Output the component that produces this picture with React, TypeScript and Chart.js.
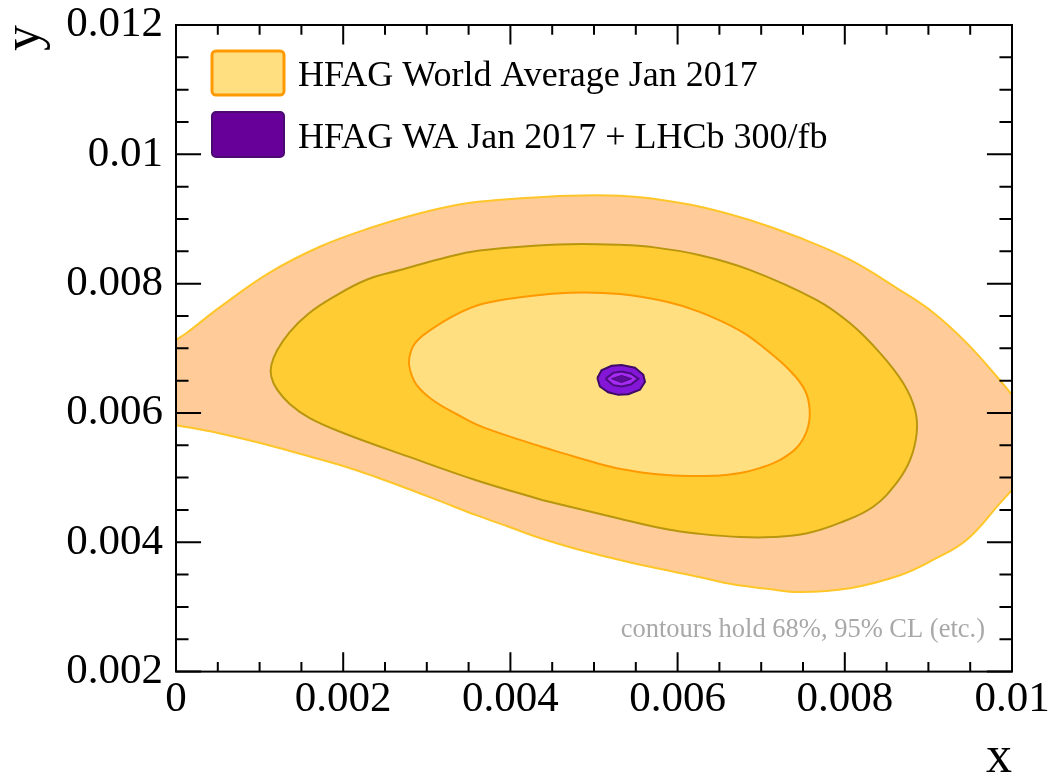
import { useEffect, useRef } from "react";
import { Chart, registerables } from "chart.js";

Chart.register(...registerables);

// ---- axis ranges & ticks ----
const X_MIN = 0;
const X_MAX = 0.01;
const Y_MIN = 0.002;
const Y_MAX = 0.012;
const xTickValues = [0, 0.002, 0.004, 0.006, 0.008, 0.01];
const xTickLabels = ["0", "0.002", "0.004", "0.006", "0.008", "0.01"];
const yTickValues = [0.002, 0.004, 0.006, 0.008, 0.01, 0.012];
const yTickLabels = ["0.002", "0.004", "0.006", "0.008", "0.01", "0.012"];
const xTitle = "x";
const yTitle = "y";

// ---- legend / annotation text ----
const legendLabels = ["HFAG World Average Jan 2017", "HFAG WA Jan 2017 + LHCb 300/fb"];
const noteText = "contours hold 68%, 95% CL (etc.)";

// ---- contours: [x, y] (points on the frame edge are repeated to keep corners sharp) ----
const wa3sigma: [number, number][] = [
  [0, 0.00713], [0.00013, 0.00724], [0.00053, 0.00764], [0.00112, 0.00817], [0.00172, 0.00857],
  [0.00232, 0.00886], [0.00292, 0.00909], [0.00352, 0.00925], [0.00412, 0.00932], [0.00471, 0.00936],
  [0.00531, 0.00936], [0.00567, 0.00932], [0.00627, 0.00919], [0.00687, 0.00898], [0.00746, 0.00871],
  [0.00806, 0.00837], [0.00866, 0.0079], [0.00906, 0.00755], [0.00946, 0.00708], [0.00982, 0.00656],
  [0.01, 0.00628], [0.01, 0.00628], [0.01, 0.00481], [0.01, 0.00481], [0.00986, 0.00461],
  [0.00946, 0.00404], [0.00906, 0.00373], [0.00866, 0.00349], [0.00806, 0.00329], [0.00746, 0.00323],
  [0.00707, 0.00328], [0.00666, 0.00335], [0.00627, 0.00346], [0.00567, 0.00362], [0.00526, 0.00374],
  [0.00478, 0.0039], [0.00439, 0.00405], [0.00398, 0.00424], [0.00359, 0.00442], [0.00319, 0.00462],
  [0.00279, 0.00482], [0.00239, 0.00501], [0.002, 0.00518], [0.00159, 0.00533], [0.0012, 0.00547],
  [0.0008, 0.0056], [0.00039, 0.00572], [0, 0.00581], [0, 0.00581], [0, 0.00713],
];
const wa2sigma: [number, number][] = [
  [0.00439, 0.00465], [0.00359, 0.00496], [0.00279, 0.00532], [0.002, 0.00569], [0.0016, 0.00592],
  [0.00136, 0.00614], [0.00121, 0.00636], [0.00114, 0.00656], [0.00114, 0.00674], [0.00121, 0.00697],
  [0.00136, 0.00725], [0.00158, 0.00753], [0.00188, 0.00779], [0.00228, 0.00806], [0.00268, 0.00821],
  [0.00316, 0.00838], [0.00352, 0.00849], [0.00412, 0.00857], [0.00471, 0.00861], [0.00531, 0.0086],
  [0.00567, 0.00857], [0.00627, 0.00844], [0.00687, 0.00821], [0.00766, 0.00775], [0.00806, 0.00739],
  [0.00842, 0.00693], [0.0087, 0.00646], [0.00884, 0.00605], [0.00886, 0.00569], [0.00878, 0.00527],
  [0.00862, 0.00492], [0.00834, 0.00455], [0.00794, 0.0043], [0.00755, 0.00414], [0.00714, 0.00408],
  [0.00675, 0.00408], [0.00627, 0.00413], [0.00587, 0.0042], [0.00526, 0.00438], [0.00439, 0.00465],
];
const wa1sigma: [number, number][] = [
  [0.00439, 0.00547], [0.00367, 0.00578], [0.00336, 0.00598], [0.00307, 0.0062], [0.00288, 0.00643],
  [0.0028, 0.00666], [0.00279, 0.00685], [0.00286, 0.00708], [0.00304, 0.00728], [0.00336, 0.00753],
  [0.00367, 0.00769], [0.00412, 0.00779], [0.00471, 0.00786], [0.00531, 0.00784], [0.00587, 0.00772],
  [0.00627, 0.00756], [0.00675, 0.00727], [0.00707, 0.00697], [0.00734, 0.00666], [0.00752, 0.00636],
  [0.00758, 0.00605], [0.00755, 0.00574], [0.00743, 0.00547], [0.00722, 0.00527], [0.00699, 0.00515],
  [0.00675, 0.00507], [0.00647, 0.00503], [0.00587, 0.00504], [0.00526, 0.00515], [0.00478, 0.00532],
  [0.00439, 0.00547],
];
const lhcbOuter: [number, number][] = [
  [0.00504, 0.00654], [0.00509, 0.00666], [0.00521, 0.00673], [0.00533, 0.00674], [0.00549, 0.0067],
  [0.00559, 0.00659], [0.00561, 0.00648], [0.00555, 0.00636], [0.00541, 0.00629], [0.00529, 0.00628],
  [0.00517, 0.00632], [0.00507, 0.00641], [0.00504, 0.00654],
];
const lhcbMid: [number, number][] = [
  [0.00514, 0.00653], [0.00523, 0.00662], [0.00533, 0.00664], [0.00544, 0.00661], [0.00553, 0.00653],
  [0.00544, 0.00644], [0.00533, 0.00641], [0.00523, 0.00643], [0.00514, 0.00653],
];
const lhcbInner: [number, number][] = [
  [0.00521, 0.00653], [0.00533, 0.00658], [0.00545, 0.00653], [0.00533, 0.00647], [0.00521, 0.00653],
];

const FONT = "'Liberation Serif', 'Times New Roman', serif";

const toPts = (arr: [number, number][]) => arr.map(([x, y]) => ({ x, y }));

const rootFramePlugin = {
  id: "rootFrame",
  afterDatasetsDraw(chart: any) {
    const { ctx, chartArea: a, scales } = chart;
    const xs = scales.x;
    const ys = scales.y;
    const w = a.right - a.left;
    const h = a.bottom - a.top;
    const xMaj = 0.03 * h;
    const yMaj = 0.03 * w;
    ctx.save();
    ctx.strokeStyle = "#000";
    ctx.lineWidth = 2;
    ctx.beginPath();
    for (let i = 0; i < xTickValues.length; i++) {
      const v = xTickValues[i];
      const p = xs.getPixelForValue(v);
      ctx.moveTo(p, a.bottom); ctx.lineTo(p, a.bottom - xMaj);
      ctx.moveTo(p, a.top); ctx.lineTo(p, a.top + xMaj);
      if (i < xTickValues.length - 1) {
        const step = (xTickValues[i + 1] - v) / 4;
        for (let k = 1; k < 4; k++) {
          const q = xs.getPixelForValue(v + k * step);
          ctx.moveTo(q, a.bottom); ctx.lineTo(q, a.bottom - xMaj / 2);
          ctx.moveTo(q, a.top); ctx.lineTo(q, a.top + xMaj / 2);
        }
      }
    }
    for (let i = 0; i < yTickValues.length; i++) {
      const v = yTickValues[i];
      const p = ys.getPixelForValue(v);
      ctx.moveTo(a.left, p); ctx.lineTo(a.left + yMaj, p);
      ctx.moveTo(a.right, p); ctx.lineTo(a.right - yMaj, p);
      if (i < yTickValues.length - 1) {
        const step = (yTickValues[i + 1] - v) / 4;
        for (let k = 1; k < 4; k++) {
          const q = ys.getPixelForValue(v + k * step);
          ctx.moveTo(a.left, q); ctx.lineTo(a.left + yMaj / 2, q);
          ctx.moveTo(a.right, q); ctx.lineTo(a.right - yMaj / 2, q);
        }
      }
    }
    ctx.stroke();
    ctx.strokeRect(a.left, a.top, w, h);

    // legend
    const bx = a.left + 36;
    const bw = 72;
    const rows = [
      { y: a.top + 26, h: 44, fill: "#FFDF80", stroke: "#FF9900", lw: 3 },
      { y: a.top + 87, h: 45, fill: "#660099", stroke: "#4a0a70", lw: 2 },
    ];
    rows.forEach((r, i) => {
      ctx.beginPath();
      ctx.roundRect(bx, r.y, bw, r.h, 4);
      ctx.fillStyle = r.fill;
      ctx.fill();
      ctx.lineWidth = r.lw;
      ctx.strokeStyle = r.stroke;
      ctx.stroke();
      ctx.fillStyle = "#000";
      ctx.font = `36px ${FONT}`;
      ctx.textAlign = "left";
      ctx.textBaseline = "alphabetic";
      ctx.fillText(legendLabels[i], bx + 86, r.y + r.h / 2 + 13);
    });

    // note
    ctx.fillStyle = "#a8a8a8";
    ctx.font = `26.5px ${FONT}`;
    ctx.textAlign = "right";
    ctx.textBaseline = "alphabetic";
    ctx.fillText(noteText, a.right - 27, a.bottom - 35);
    ctx.restore();
  },
};

export default function App() {
  const ref = useRef<HTMLCanvasElement | null>(null);
  useEffect(() => {
    if (!ref.current) return;
    const mk = (label: string, data: [number, number][], fill: string, border: string, bw: number, order: number, tension: number) => ({
      label,
      data: toPts(data),
      showLine: true,
      fill: "shape",
      backgroundColor: fill,
      borderColor: border,
      borderWidth: bw,
      pointRadius: 0,
      tension,
      order,
    });
    const chart = new Chart(ref.current, {
      type: "scatter",
      data: {
        datasets: [
          mk("WA 3 sigma", wa3sigma, "#FFCC99", "#FFC62A", 2, 6, 0.4),
          mk("WA 2 sigma", wa2sigma, "#FFCC33", "#B8960E", 2, 5, 0.4),
          mk("WA 1 sigma", wa1sigma, "#FFDF80", "#FF9900", 2, 4, 0.4),
          mk("LHCb 2 sigma", lhcbOuter, "#8416d8", "#3d0a66", 2, 3, 0),
          mk("LHCb 1 sigma", lhcbMid, "#a52af2", "#4b0b7c", 2, 2, 0),
          mk("LHCb core", lhcbInner, "#5e0c99", "#4b0b7c", 1, 1, 0),
        ] as any,
      },
      options: {
        responsive: false,
        animation: false,
        events: [],
        layout: { padding: { top: 25, right: 41, bottom: 0, left: 0 } },
        plugins: {
          legend: { display: false },
          tooltip: { enabled: false },
        },
        scales: {
          x: {
            type: "linear",
            min: X_MIN,
            max: X_MAX,
            grid: { display: false, drawTicks: false },
            border: { display: false },
            afterBuildTicks: (s: any) => { s.ticks = xTickValues.map((v) => ({ value: v })); },
            afterFit: (s: any) => { s.height = 104.4; s.paddingLeft = 0; s.paddingRight = 0; },
            ticks: {
              autoSkip: false,
              maxRotation: 0,
              padding: 2,
              color: "#000",
              font: { family: FONT, size: 43 },
              callback: (_v: any, i: number) => xTickLabels[i],
            },
            title: {
              display: true,
              text: xTitle,
              align: "end",
              color: "#000",
              font: { family: FONT, size: 52, lineHeight: 0.65 },
              padding: { top: 0, bottom: 1 },
            },
          },
          y: {
            type: "linear",
            min: Y_MIN,
            max: Y_MAX,
            grid: { display: false, drawTicks: false },
            border: { display: false },
            afterBuildTicks: (s: any) => { s.ticks = yTickValues.map((v) => ({ value: v })); },
            afterFit: (s: any) => { s.width = 176; s.paddingTop = 0; s.paddingBottom = 0; },
            ticks: {
              autoSkip: false,
              padding: 13,
              color: "#000",
              font: { family: FONT, size: 43, lineHeight: 1 },
              callback: (_v: any, i: number) => yTickLabels[i],
            },
            title: {
              display: true,
              text: yTitle,
              align: "end",
              color: "#000",
              font: { family: FONT, size: 52, lineHeight: 0.5 },
              padding: { top: 12, bottom: 0 },
            },
          },
        },
      } as any,
      plugins: [rootFramePlugin],
    });
    return () => chart.destroy();
  }, []);
  return (
    <div style={{ position: "fixed", left: 0, top: 0, width: 1053, height: 776, background: "#fff" }}>
      <canvas ref={ref} width={1053} height={776} style={{ display: "block" }} />
    </div>
  );
}
